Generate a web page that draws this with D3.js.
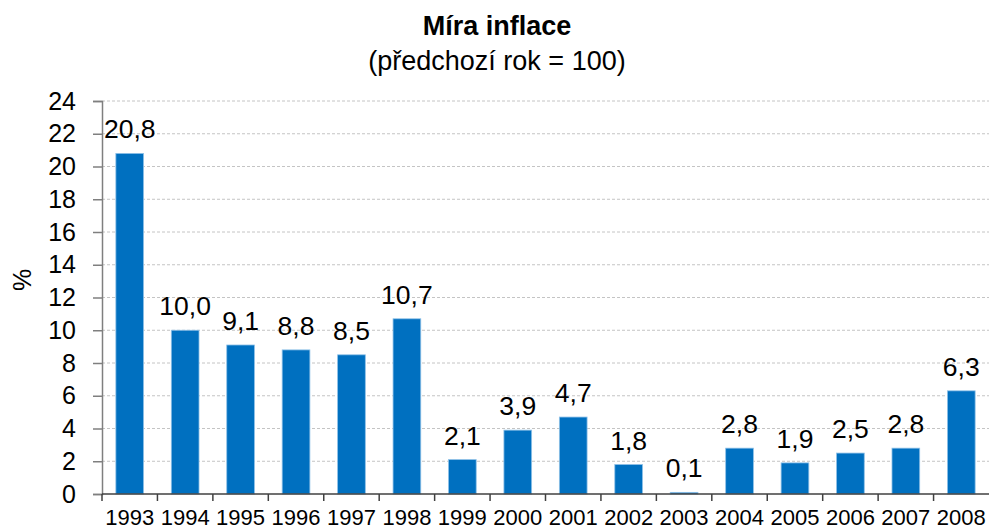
<!DOCTYPE html>
<html><head><meta charset="utf-8">
<script src="https://cdn.jsdelivr.net/npm/d3@7"></script>
<style>body{margin:0;background:#fff}svg{display:block}text{font-family:"Liberation Sans",Arial,sans-serif}</style>
</head><body><svg id="c" width="990" height="531"></svg>
<script>
const years = ["1993","1994","1995","1996","1997","1998","1999","2000","2001","2002","2003","2004","2005","2006","2007","2008"];
const values = [20.8,10.0,9.1,8.8,8.5,10.7,2.1,3.9,4.7,1.8,0.1,2.8,1.9,2.5,2.8,6.3];
const yTicks = [0,2,4,6,8,10,12,14,16,18,20,22,24];
const title = "Míra inflace";
const subtitle = "(předchozí rok = 100)";
const yLabel = "%";

const svg = d3.select("#c");
const L = 102, R = 989, T = 101, B = 494;
const x = d3.scaleBand().domain(years).range([L, R]).paddingInner(0.5).paddingOuter(0.25);
const y = d3.scaleLinear().domain([0, 24]).range([B, T]);
const FF = '"Liberation Sans",Arial,sans-serif';

// gridlines
svg.append("g").selectAll("line").data(yTicks.filter(d => d > 0)).join("line")
  .attr("x1", L).attr("x2", R).attr("y1", d => y(d)).attr("y2", d => y(d))
  .attr("stroke", "#c4c4c4").attr("stroke-dasharray", "3,2").attr("stroke-width", 1);

// bars
svg.append("g").selectAll("rect").data(values).join("rect")
  .attr("x", (d, i) => x(years[i])).attr("width", x.bandwidth())
  .attr("y", d => y(d)).attr("height", d => B - y(d))
  .attr("fill", "#0070C0").attr("stroke", "#8fc1e8").attr("stroke-width", 0.8);

// value labels
svg.append("g").selectAll("text").data(values).join("text")
  .attr("x", (d, i) => x(years[i]) + x.bandwidth() / 2)
  .attr("y", d => y(d) - 15)
  .attr("text-anchor", "middle").attr("font-size", 26.5).attr("fill", "#000")
  .text(d => d.toFixed(1).replace(".", ","));

// y axis
const ya = svg.append("g").attr("transform", `translate(${L},0)`)
  .call(d3.axisLeft(y).tickValues(yTicks).tickSize(9).tickPadding(17).tickFormat(d => d));
ya.select(".domain").attr("stroke", "#7f7f7f").attr("stroke-width", 1.5);
ya.selectAll(".tick line").attr("stroke", "#7f7f7f").attr("stroke-width", 1.5);
ya.selectAll(".tick text").attr("font-size", 25).attr("fill", "#000").attr("font-family", FF);

// x axis
const xa = svg.append("g");
xa.append("line").attr("x1", L).attr("x2", R).attr("y1", B).attr("y2", B).attr("stroke", "#404040").attr("stroke-width", 1.5);
xa.selectAll(".xt").data(d3.range(years.length)).join("line").attr("class", "xt")
  .attr("x1", i => x(years[i]) - x.step() * 0.25).attr("x2", i => x(years[i]) - x.step() * 0.25)
  .attr("y1", B).attr("y2", B + 7).attr("stroke", "#404040").attr("stroke-width", 1.5);
xa.selectAll("text").data(years).join("text")
  .attr("x", d => x(d) + x.bandwidth() / 2).attr("y", 525)
  .attr("text-anchor", "middle").attr("font-size", 22).attr("fill", "#000").text(d => d);

// y label
svg.append("text").attr("transform", "translate(31,280) rotate(-90)")
  .attr("text-anchor", "middle").attr("font-size", 25).text(yLabel);

// titles
svg.append("text").attr("x", 497).attr("y", 35).attr("text-anchor", "middle")
  .attr("font-size", 27).attr("font-weight", "bold").text(title);
svg.append("text").attr("x", 497).attr("y", 70).attr("text-anchor", "middle")
  .attr("font-size", 27).text(subtitle);
</script></body></html>
